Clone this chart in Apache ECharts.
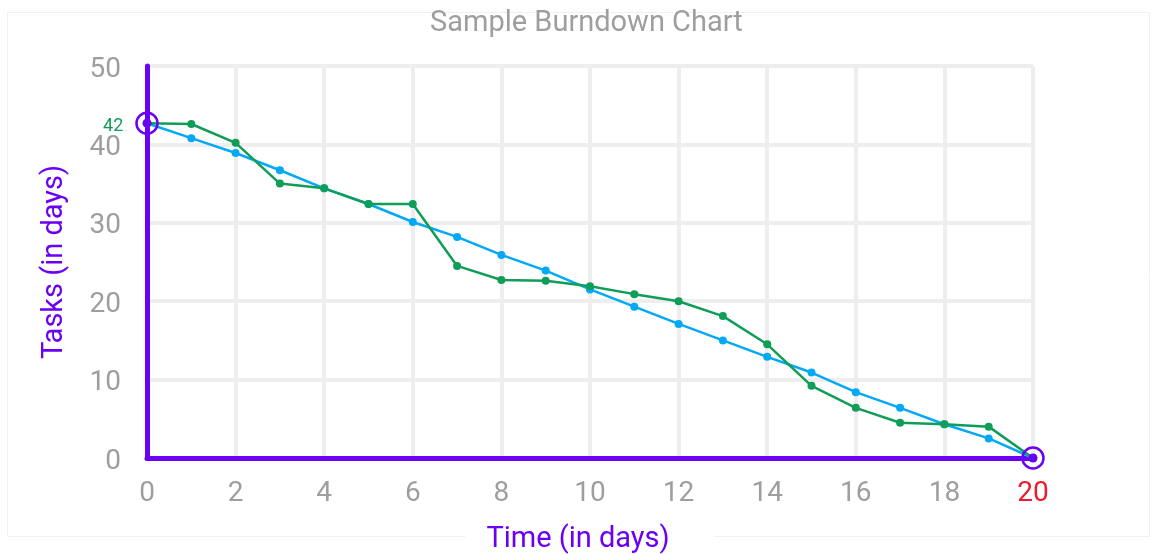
<!DOCTYPE html>
<html>
<head>
<meta charset="utf-8">
<script src="https://cdn.jsdelivr.net/npm/echarts@6/dist/echarts.min.js"></script>
<style>html,body{margin:0;padding:0;background:#fff;}#c{width:1157px;height:554px;}</style>
</head>
<body>
<div id="c"></div>
<script>
const days = [0,1,2,3,4,5,6,7,8,9,10,11,12,13,14,15,16,17,18,19,20];
const idealTasks = [42.7,40.8,38.9,36.7,34.4,32.4,30.1,28.2,25.9,23.9,21.5,19.3,17.1,15.0,12.9,10.9,8.4,6.4,4.3,2.5,0];
const actualTasks = [42.7,42.6,40.2,35.0,34.4,32.4,32.4,24.5,22.7,22.6,21.9,20.9,20.0,18.1,14.5,9.2,6.4,4.5,4.3,4.0,0];
const startLabel = '42';
const titleText = 'Sample Burndown Chart';
const xName = 'Time (in days)';
const yName = 'Tasks (in days)';

const purple = '#6a00f4';
const gray = '#9e9e9e';
const font = 'Roboto';

const pair = (xs, ys) => xs.map((x, i) => [x, ys[i]]);
const last = days.length - 1;
const endPoints = [[days[0], actualTasks[0]], [days[last], actualTasks[last]]];

const chart = echarts.init(document.getElementById('c'));
chart.setOption({
  animation: false,
  textStyle: {fontFamily: font},
  title: {
    text: titleText, left: 430, top: 9, padding: 0,
    textStyle: {color: gray, fontSize: 29, fontWeight: 'normal', fontFamily: font}
  },
  graphic: [{
    type: 'rect', z: -10, silent: true,
    shape: {x: 7.5, y: 12.5, width: 1142, height: 524},
    style: {fill: 'none', stroke: '#f0f0f4', lineWidth: 1}
  }],
  grid: {left: 147, right: 124, top: 66, bottom: 96, containLabel: false, outerBoundsMode: 'none'},
  xAxis: {
    type: 'value', min: 0, max: 20, interval: 2,
    name: xName, nameLocation: 'middle', nameGap: 67,
    nameTextStyle: {color: purple, fontSize: 29, fontFamily: font, backgroundColor: '#fff', padding: [0, 45, 0, 21]},
    axisLine: {show: true, onZero: false, lineStyle: {color: purple, width: 5}},
    axisTick: {show: false},
    axisLabel: {
      margin: 22, color: gray, fontSize: 28, fontFamily: font,
      formatter: v => v === 20 ? '{r|' + v + '}' : String(v),
      rich: {r: {color: '#ef1a2d', fontSize: 28, fontFamily: font}}
    },
    splitLine: {show: true, lineStyle: {color: '#eeeeee', width: 4}}
  },
  yAxis: {
    type: 'value', min: 0, max: 50, interval: 10,
    name: yName, nameLocation: 'middle', nameGap: 78, nameRotate: 90,
    nameTextStyle: {color: purple, fontSize: 29, fontFamily: font},
    axisLine: {show: true, onZero: false, lineStyle: {color: purple, width: 5}},
    axisTick: {show: false},
    axisLabel: {
      margin: 26, color: gray, fontSize: 28, fontFamily: font,
      formatter: v => '{a|' + v + '}',
      rich: {a: {color: gray, fontSize: 28, fontFamily: font, padding: [7, 0, 0, 0]}}
    },
    splitLine: {show: true, lineStyle: {color: '#eeeeee', width: 4}}
  },
  series: [
    {
      type: 'line', data: pair(days, idealTasks), symbol: 'circle', symbolSize: 8,
      showAllSymbol: true, lineStyle: {color: '#03a9f4', width: 2.5},
      itemStyle: {color: '#03a9f4'}, z: 3
    },
    {
      type: 'line', data: pair(days, actualTasks), symbol: 'circle', symbolSize: 8,
      showAllSymbol: true, lineStyle: {color: '#0f9d58', width: 2.5},
      itemStyle: {color: '#0f9d58'}, z: 4
    },
    {
      type: 'scatter', data: endPoints, symbol: 'circle', symbolSize: 9,
      itemStyle: {color: purple, opacity: 1}, z: 6
    },
    {
      type: 'scatter', data: endPoints, symbol: 'circle', symbolSize: 21,
      itemStyle: {color: 'rgba(0,0,0,0)', borderColor: purple, borderWidth: 2.5, opacity: 1}, z: 7,
      label: {
        show: true, position: 'left', distance: 12,
        formatter: p => p.dataIndex === 0 ? '{g|' + startLabel + '}' : '',
        rich: {g: {color: '#0f9d58', fontSize: 18, fontFamily: font, padding: [6, 0, 0, 0]}}
      }
    }
  ]
});
</script>
</body>
</html>
